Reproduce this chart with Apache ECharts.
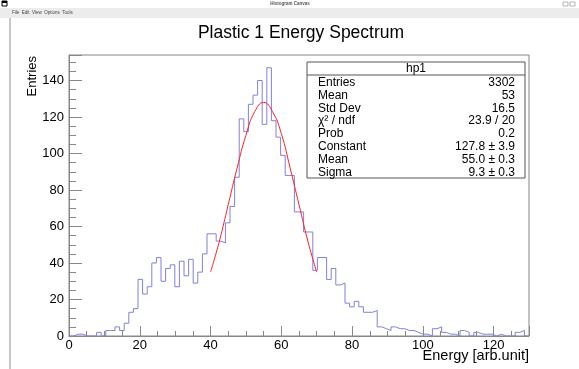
<!DOCTYPE html>
<html><head><meta charset="utf-8">
<script src="https://cdn.jsdelivr.net/npm/echarts/dist/echarts.min.js"></script>
<style>html,body{margin:0;padding:0;background:#fff;overflow:hidden}#c{width:579px;height:369px}</style>
</head><body><div id="c"></div>
<script>
// Histogram: 100 bins from 0 to 130
const binLow = 0;
const binWidth = 1.3;
const counts = [
  0, 1, 1, 0, 0, 0, 2, 0, 3, 3,
  5, 3, 7, 13, 15, 31, 23, 27, 40, 43,
  30, 37, 39, 27, 41, 33, 42, 29, 35, 45,
  56, 56, 52, 51, 62, 71, 87, 119, 112, 127,
  132, 140, 116, 147, 118, 109, 99, 88, 88, 68,
  68, 57, 57, 36, 43, 43, 31, 37, 28, 29,
  18, 16, 19, 16, 13, 13, 14, 5, 4, 3,
  5, 4, 4, 3, 3, 2, 1, 1, 0, 4,
  5, 2, 1, 1, 0, 3, 2, 0, 2, 1,
  1, 1, 0, 1, 0, 0, 0, 2, 3, 0
];
// Gaussian fit curve
const fitX = [40, 42.5, 45, 47.5, 50, 52.5, 55, 57.5, 60, 62.5, 65, 67.5, 70];
const fitY = [35, 52, 72, 92, 110, 123, 128, 123, 111, 92, 72, 52, 35];

const titleText = 'Plastic 1 Energy Spectrum';
const xTitle = 'Energy [arb.unit]';
const yTitle = 'Entries';
const statsName = 'hp1';
const statsLabels = ['Entries', 'Mean', 'Std Dev', 'χ² / ndf', 'Prob', 'Constant', 'Mean', 'Sigma'];
const statsValues = ['3302', '53', '16.5', '23.9 / 20', '0.2', '127.8 ± 3.9', '55.0 ± 0.3', '9.3 ± 0.3'];

const histData = counts.map((v, i) => [binLow + i * binWidth, v]);
histData.push([binLow + counts.length * binWidth, counts[counts.length - 1]]);
const fitData = fitX.map((x, i) => [x, fitY[i]]);

const FONT = '"Liberation Sans", Arial, Helvetica, sans-serif';
const chart = echarts.init(document.getElementById('c'), null, {renderer: 'canvas'});

const graphics = [
  // window title bar
  {type: 'rect', shape: {x: 0, y: 0, width: 579, height: 8}, style: {fill: '#ffffff'}, silent: true},
  {type: 'rect', shape: {x: 2, y: 1, width: 5, height: 5}, style: {fill: '#fff', stroke: '#000', lineWidth: 1}},
  {type: 'rect', shape: {x: 2, y: 1, width: 5, height: 2}, style: {fill: '#000'}},
  {type: 'text', style: {text: 'Histogram Canvas', x: 290, y: 4, fill: '#555', font: 'bold 4.5px ' + FONT, align: 'center', verticalAlign: 'middle'}},
  {type: 'rect', shape: {x: 563, y: 2, width: 5, height: 4}, style: {fill: '#fff', stroke: '#888', lineWidth: 0.6}},
  {type: 'rect', shape: {x: 570, y: 2, width: 5, height: 4}, style: {fill: '#fff', stroke: '#888', lineWidth: 0.6}},
  // menu bar
  {type: 'rect', shape: {x: 0, y: 8, width: 579, height: 10}, style: {fill: '#ececec'}},
  {type: 'text', style: {text: 'File  Edit  View  Options  Tools', x: 12, y: 13, fill: '#444', font: '4.5px ' + FONT, verticalAlign: 'middle'}},
  // left panel border
  {type: 'rect', shape: {x: 9, y: 18, width: 2, height: 351}, style: {fill: '#c8c8c8'}},
  // titles
  {type: 'text', style: {text: titleText, x: 301, y: 33, fill: '#000', font: '17.5px ' + FONT, align: 'center', verticalAlign: 'middle'}},
  {type: 'text', rotation: Math.PI / 2, x: 32, y: 56, style: {text: yTitle, x: 0, y: 0, fill: '#000', font: '13px ' + FONT, align: 'right', verticalAlign: 'middle'}},
  {type: 'text', style: {text: xTitle, x: 529, y: 356, fill: '#000', font: '14.5px ' + FONT, align: 'right', verticalAlign: 'middle'}},
  // stats box
  {type: 'rect', z: 10, shape: {x: 307, y: 62, width: 218, height: 116}, style: {fill: '#fff', stroke: '#555', lineWidth: 1}},
  {type: 'line', z: 11, shape: {x1: 307, y1: 75, x2: 525, y2: 75}, style: {stroke: '#555', lineWidth: 1}},
  {type: 'text', z: 11, style: {text: statsName, x: 416, y: 68.5, fill: '#000', font: '12px ' + FONT, align: 'center', verticalAlign: 'middle'}}
];
statsLabels.forEach((t, i) => {
  graphics.push({type: 'text', z: 11, style: {text: t, x: 318, y: 82.5 + i * 12.85, fill: '#000', font: '12px ' + FONT, verticalAlign: 'middle'}});
  graphics.push({type: 'text', z: 11, style: {text: statsValues[i], x: 515, y: 82.5 + i * 12.85, fill: '#000', font: '12px ' + FONT, align: 'right', verticalAlign: 'middle'}});
});

chart.setOption({
  animation: false,
  backgroundColor: '#ffffff',
  grid: {left: 69, right: 50, top: 55, bottom: 33, show: true, borderColor: '#888', borderWidth: 1, backgroundColor: 'transparent'},
  xAxis: {
    type: 'value', min: 0, max: 130, interval: 20,
    axisLine: {show: true, onZero: false, lineStyle: {color: '#888', width: 1}},
    axisTick: {show: true, inside: true, length: 10, lineStyle: {color: '#888'}},
    minorTick: {show: true, splitNumber: 4, length: 5, lineStyle: {color: '#888'}},
    axisLabel: {color: '#000', fontSize: 13, fontFamily: FONT, margin: 3, showMaxLabel: false},
    splitLine: {show: false}
  },
  yAxis: {
    type: 'value', min: 0, max: 154, interval: 20,
    axisLine: {show: true, lineStyle: {color: '#888', width: 1}},
    axisTick: {show: true, inside: true, length: 13, lineStyle: {color: '#888'}},
    minorTick: {show: true, splitNumber: 4, length: 7, lineStyle: {color: '#888'}},
    axisLabel: {color: '#000', fontSize: 13, fontFamily: FONT, margin: 5, showMaxLabel: false},
    splitLine: {show: false}
  },
  graphic: graphics,
  series: [
    {type: 'line', name: 'hp1', data: histData, step: 'end', symbol: 'none',
     lineStyle: {color: '#8080e0', width: 1}, z: 3},
    {type: 'line', name: 'fit', data: fitData, smooth: true, symbol: 'none',
     lineStyle: {color: '#ff2020', width: 1}, z: 4}
  ]
});
</script></body></html>
